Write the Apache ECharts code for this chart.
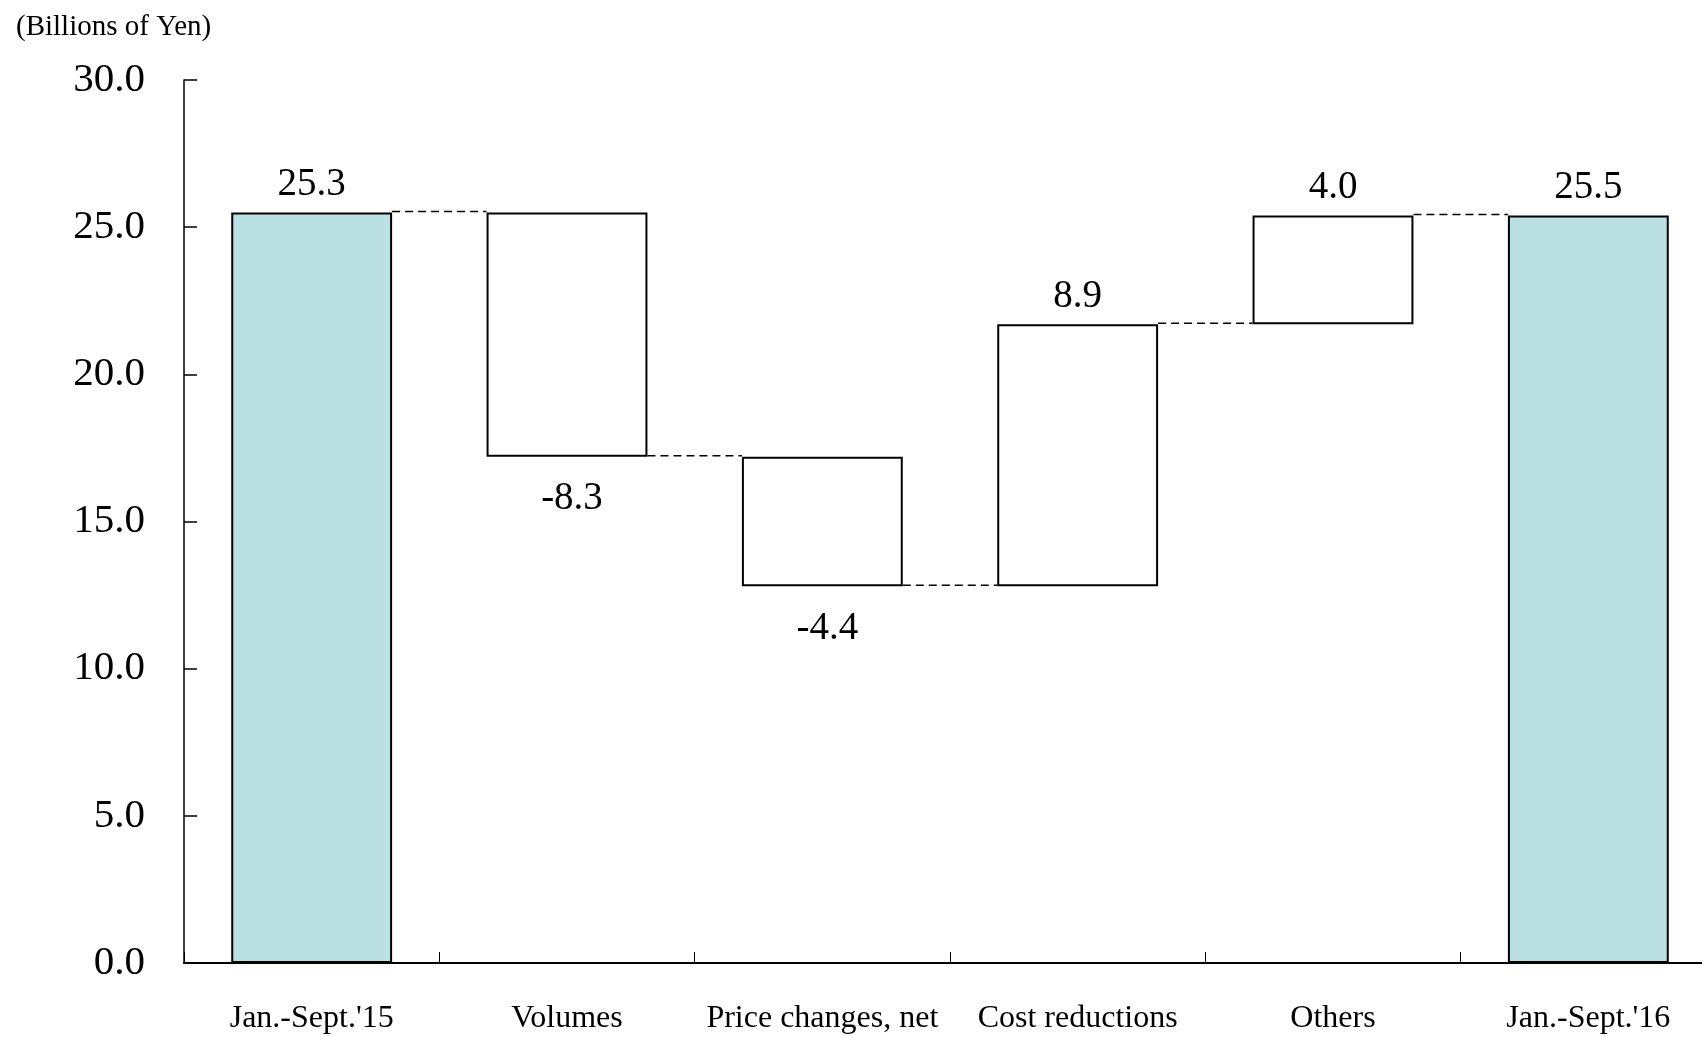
<!DOCTYPE html>
<html>
<head>
<meta charset="utf-8">
<script src="https://cdn.jsdelivr.net/npm/echarts@6/dist/echarts.min.js"></script>
<style>
html,body{margin:0;padding:0;background:#fff;}
#chart{width:1702px;height:1037px;}
</style>
</head>
<body>
<div id="chart"></div>
<script>
var categories = ["Jan.-Sept.'15", "Volumes", "Price changes, net", "Cost reductions", "Others", "Jan.-Sept.'16"];
// bar bottoms and tops as drawn in the reference
var barBase = [0, 17.2, 12.8, 12.8, 21.7, 0];
var barTop = [25.5, 25.5, 17.2, 21.7, 25.4, 25.4];
// printed value labels
var valueLabels = ["25.3", "-8.3", "-4.4", "8.9", "4.0", "25.5"];
var labelBelow = [false, true, true, false, false, false];
var isTotal = [true, false, false, false, false, true];
// dashed connector levels between bar i and bar i+1
var connectorLevels = [25.5, 17.2, 12.8, 21.7, 25.4];
var yTicks = [0, 5, 10, 15, 20, 25, 30];

var FONT = "'Liberation Serif', 'DejaVu Serif', serif";
var BAR_RATIO = 0.63;

var chart = echarts.init(document.getElementById('chart'));

var baseData = barBase.map(function (v) { return v; });
var heightData = barTop.map(function (t, i) {
  return {
    value: +(t - barBase[i]).toFixed(2),
    itemStyle: { color: isTotal[i] ? '#bbe0e3' : '#ffffff' },
    label: {
      show: true,
      position: labelBelow[i] ? 'bottom' : 'top',
      distance: labelBelow[i] ? 23 : 8,
      offset: labelBelow[i] ? [5, 0] : [0, 0],
      formatter: function () { return valueLabels[i]; }
    }
  };
});
var connData = connectorLevels.map(function (v, i) { return [i, v]; });

chart.setOption({
  animation: false,
  backgroundColor: '#ffffff',
  title: {
    text: '(Billions of Yen)',
    left: 11,
    top: 8,
    textStyle: { fontFamily: FONT, fontSize: 29, fontWeight: 'normal', color: '#000' }
  },
  grid: { left: 184, right: -14, top: 80, bottom: 74, outerBoundsMode: 'none', containLabel: false },
  xAxis: {
    type: 'category',
    data: categories,
    axisLine: { lineStyle: { color: '#000', width: 2 } },
    axisTick: { show: true, inside: true, length: 11, lineStyle: { color: '#000', width: 1 } },
    axisLabel: { fontFamily: FONT, fontSize: 32, color: '#000', margin: 40, interval: 0 }
  },
  yAxis: {
    type: 'value',
    min: yTicks[0],
    max: yTicks[yTicks.length - 1],
    interval: yTicks[1] - yTicks[0],
    splitLine: { show: false },
    axisLine: { show: true, lineStyle: { color: '#000', width: 1.5 } },
    axisTick: { show: true, inside: true, length: 13, lineStyle: { color: '#000', width: 1.5 } },
    axisLabel: {
      fontFamily: FONT, fontSize: 41, color: '#000', margin: 39,
      formatter: function (v) { return v.toFixed(1); }
    }
  },
  series: [
    {
      type: 'bar',
      stack: 'wf',
      barWidth: (BAR_RATIO * 100) + '%',
      itemStyle: { color: 'transparent', borderWidth: 0 },
      emphasis: { disabled: true },
      data: baseData
    },
    {
      type: 'bar',
      stack: 'wf',
      barWidth: (BAR_RATIO * 100) + '%',
      itemStyle: { borderColor: '#000', borderWidth: 2 },
      label: { fontFamily: FONT, fontSize: 39, color: '#000' },
      emphasis: { disabled: true },
      data: heightData,
      z: 3
    },
    {
      type: 'custom',
      data: connData,
      z: 2,
      renderItem: function (params, api) {
        var p = api.coord([api.value(0), api.value(1)]);
        var band = api.size([1, 0])[0];
        var half = band * BAR_RATIO / 2;
        return {
          type: 'line',
          shape: { x1: p[0] + half, y1: p[1] - 1, x2: p[0] + band - half, y2: p[1] - 1 },
          style: { stroke: '#000', lineWidth: 1.5, lineDash: [8, 5] }
        };
      }
    }
  ]
});
</script>
</body>
</html>
